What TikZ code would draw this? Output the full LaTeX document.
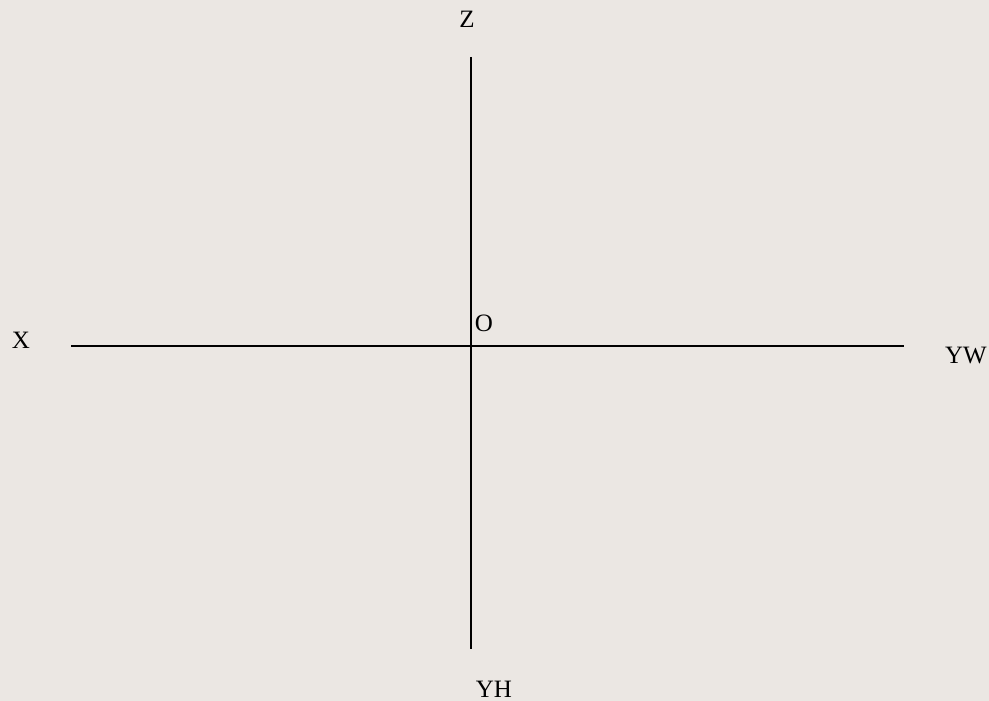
\documentclass[tikz,border=0pt]{standalone}
\usepackage{fontspec}
\setmainfont{Liberation Serif}
\usepackage{xcolor}
\definecolor{paper}{HTML}{EBE7E3}

\begin{document}
\begin{tikzpicture}[x=1pt,y=-1pt,axis/.style={line width=1.6pt},lbl/.style={inner sep=0pt,font=\fontsize{25}{30}\selectfont}]
        \fill[paper] (0,0) rectangle (989,701);
        \useasboundingbox (0,0) rectangle (989,701);
        \coordinate (xend) at (71,346);
        \coordinate (ywend) at (904,346);
        \coordinate (zend) at (471,57);
        \coordinate (yhend) at (471,649);
        \coordinate (origin) at (471,346);
        \draw[axis] (xend) -- (ywend);
        \draw[axis] (zend) -- (yhend);
        \node[lbl] (Z) at (467,19) {Z};
        \node[lbl] (X) at (21,340) {X};
        \node[lbl] (O) at (484,323) {O};
        \node[lbl] (YW) at (966,356) {YW};
        \node[lbl] (YH) at (494,689) {YH};
    \end{tikzpicture}
\end{document}
